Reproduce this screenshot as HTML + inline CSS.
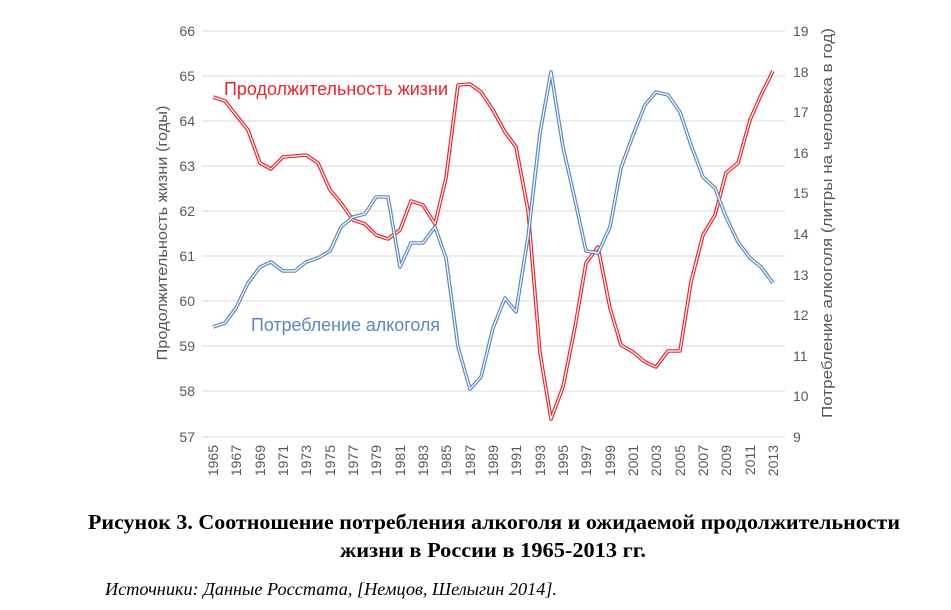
<!DOCTYPE html>
<html><head><meta charset="utf-8"><style>
body{margin:0;background:#fff;width:951px;height:605px;overflow:hidden}
</style></head><body>
<svg width="951" height="605" xmlns="http://www.w3.org/2000/svg" font-family="Liberation Sans, sans-serif">
<g stroke="#d9d9d9" stroke-width="1">
<line x1="202" x2="785" y1="31" y2="31"/><line x1="202" x2="785" y1="76" y2="76"/><line x1="202" x2="785" y1="121" y2="121"/><line x1="202" x2="785" y1="166" y2="166"/><line x1="202" x2="785" y1="211" y2="211"/><line x1="202" x2="785" y1="256" y2="256"/><line x1="202" x2="785" y1="301" y2="301"/><line x1="202" x2="785" y1="346" y2="346"/><line x1="202" x2="785" y1="391" y2="391"/><line x1="202" x2="785" y1="437" y2="437"/>
</g>
<g font-size="14" fill="#595959" text-anchor="end">
<text x="195" y="36">66</text><text x="195" y="81">65</text><text x="195" y="126">64</text><text x="195" y="171">63</text><text x="195" y="216">62</text><text x="195" y="261">61</text><text x="195" y="306">60</text><text x="195" y="351">59</text><text x="195" y="396">58</text><text x="195" y="442">57</text>
</g>
<g font-size="14" fill="#595959" text-anchor="start">
<text x="793" y="36">19</text><text x="793" y="77">18</text><text x="793" y="117">17</text><text x="793" y="158">16</text><text x="793" y="198">15</text><text x="793" y="239">14</text><text x="793" y="280">13</text><text x="793" y="320">12</text><text x="793" y="361">11</text><text x="793" y="401">10</text><text x="793" y="442">9</text>
</g>
<text transform="translate(167,233) rotate(-90)" font-size="15" fill="#595959" text-anchor="middle" textLength="255" lengthAdjust="spacingAndGlyphs">Продолжительность жизни (годы)</text>
<text transform="translate(832,223) rotate(-90)" font-size="15" fill="#595959" text-anchor="middle" textLength="390" lengthAdjust="spacingAndGlyphs">Потребление алкоголя (литры на человека в год)</text>
<g font-size="14" fill="#595959" text-anchor="end">
<text transform="translate(218,445) rotate(-90)">1965</text><text transform="translate(241,445) rotate(-90)">1967</text><text transform="translate(265,445) rotate(-90)">1969</text><text transform="translate(288,445) rotate(-90)">1971</text><text transform="translate(311,445) rotate(-90)">1973</text><text transform="translate(335,445) rotate(-90)">1975</text><text transform="translate(358,445) rotate(-90)">1977</text><text transform="translate(381,445) rotate(-90)">1979</text><text transform="translate(405,445) rotate(-90)">1981</text><text transform="translate(428,445) rotate(-90)">1983</text><text transform="translate(451,445) rotate(-90)">1985</text><text transform="translate(475,445) rotate(-90)">1987</text><text transform="translate(498,445) rotate(-90)">1989</text><text transform="translate(521,445) rotate(-90)">1991</text><text transform="translate(545,445) rotate(-90)">1993</text><text transform="translate(568,445) rotate(-90)">1995</text><text transform="translate(591,445) rotate(-90)">1997</text><text transform="translate(615,445) rotate(-90)">1999</text><text transform="translate(638,445) rotate(-90)">2001</text><text transform="translate(661,445) rotate(-90)">2003</text><text transform="translate(685,445) rotate(-90)">2005</text><text transform="translate(708,445) rotate(-90)">2007</text><text transform="translate(731,445) rotate(-90)">2009</text><text transform="translate(755,445) rotate(-90)">2011</text><text transform="translate(778,445) rotate(-90)">2013</text>
</g>
<g fill="none" stroke-linejoin="round">
<polyline stroke="#e8262b" stroke-width="3.6" points="213,97 225,101 236,115 248,130 260,163 271,169 283,157 295,156 306,155 318,163 330,190 341,203 353,220 365,224 376,235 388,239 400,230 411,201 423,205 435,224 446,178 458,85 470,84 481,92 493,110 505,132 516,147 528,210 540,353 551,419 563,387 575,327 586,263 598,247 610,308 621,345 633,352 645,362 656,367 668,351 680,351 691,282 703,235 715,215 726,173 738,163 750,120 761,95 773,71"/>
<polyline stroke="#fff" stroke-width="1.2" points="213,97 225,101 236,115 248,130 260,163 271,169 283,157 295,156 306,155 318,163 330,190 341,203 353,220 365,224 376,235 388,239 400,230 411,201 423,205 435,224 446,178 458,85 470,84 481,92 493,110 505,132 516,147 528,210 540,353 551,419 563,387 575,327 586,263 598,247 610,308 621,345 633,352 645,362 656,367 668,351 680,351 691,282 703,235 715,215 726,173 738,163 750,120 761,95 773,71"/>
<polyline stroke="#5b87c0" stroke-width="3.6" points="213,327 225,323 236,308 248,283 260,267 271,262 283,271 295,271 306,262 318,258 330,251 341,227 353,217 365,214 376,197 388,197 400,267 411,243 423,243 435,227 446,258 458,347 470,389 481,377 493,328 505,298 516,312 528,237 540,133 551,72 563,147 575,200 586,251 598,253 610,227 621,168 633,135 645,105 656,92 668,95 680,112 691,145 703,177 715,188 726,217 738,242 750,258 761,267 773,283"/>
<polyline stroke="#fff" stroke-width="1.2" points="213,327 225,323 236,308 248,283 260,267 271,262 283,271 295,271 306,262 318,258 330,251 341,227 353,217 365,214 376,197 388,197 400,267 411,243 423,243 435,227 446,258 458,347 470,389 481,377 493,328 505,298 516,312 528,237 540,133 551,72 563,147 575,200 586,251 598,253 610,227 621,168 633,135 645,105 656,92 668,95 680,112 691,145 703,177 715,188 726,217 738,242 750,258 761,267 773,283"/>
</g>
<text x="224" y="95" font-size="18" fill="#e8262b" textLength="224" lengthAdjust="spacingAndGlyphs">Продолжительность жизни</text>
<text x="251" y="331" font-size="18" fill="#5b87c0" textLength="189" lengthAdjust="spacingAndGlyphs">Потребление алкоголя</text>
<g font-family="Liberation Serif, serif" font-weight="bold" font-size="21" fill="#000">
<text x="88" y="529" textLength="812" lengthAdjust="spacingAndGlyphs">Рисунок 3. Соотношение потребления алкоголя и ожидаемой продолжительности</text>
<text x="340" y="557" textLength="306" lengthAdjust="spacingAndGlyphs">жизни в России в 1965-2013 гг.</text>
</g>
<text x="105" y="595" font-family="Liberation Serif, serif" font-style="italic" font-size="18" fill="#000" textLength="452" lengthAdjust="spacingAndGlyphs">Источники: Данные Росстата, [Немцов, Шелыгин 2014].</text>
</svg>
</body></html>
